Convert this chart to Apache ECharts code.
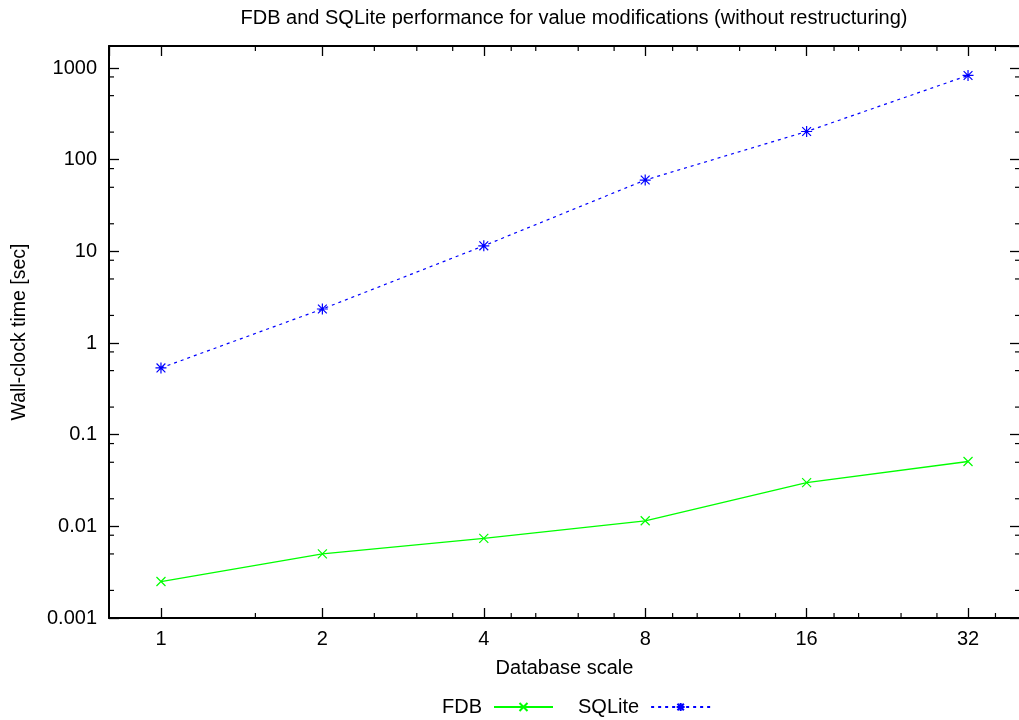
<!DOCTYPE html>
<html>
<head>
<meta charset="utf-8">
<script src="https://cdn.jsdelivr.net/npm/echarts@6/dist/echarts.min.js"></script>
<style>
  html, body { margin: 0; padding: 0; background: #fff; }
  #chart { width: 1019px; height: 720px; }
</style>
</head>
<body>
<div id="chart"></div>
<script>
// ---- data ----
const scaleValues = [1, 2, 4, 8, 16, 32];
const fdbTimes = [0.0025, 0.0050, 0.0074, 0.0115, 0.030, 0.051];
const sqliteTimes = [0.535, 2.35, 11.5, 60, 203, 830];

const seriesNames = ['FDB', 'SQLite'];
const xTickLabels = ['1', '2', '4', '8', '16', '32'];
const yTickLabels = ['0.001', '0.01', '0.1', '1', '10', '100', '1000'];

// minor tick positions seen on the reference axes
const xMinorTicks = [1.5, 2.5, 3, 3.5, 4.5, 5, 6, 7, 9, 10, 12, 14, 18, 20, 24, 28, 36];
const yMinorTicks = [0.002, 0.005, 0.008, 0.02, 0.05, 0.08, 0.2, 0.5, 0.8,
                     2, 5, 8, 20, 50, 80, 200, 500, 800];

const titleText = 'FDB and SQLite performance for value modifications (without restructuring)';
const xName = 'Database scale';
const yName = 'Wall-clock time [sec]';

// ---- chart ----
const FONT = 'Liberation Sans, Arial, Helvetica, sans-serif';
const GREEN = '#00ff00';
const BLUE = '#0000ff';
const X_MIN = 0.8, X_MAX = 40, Y_MIN = 0.001, Y_MAX = 1740;

const chart = echarts.init(document.getElementById('chart'), null, { renderer: 'canvas' });

function xLabel(v) {
  const i = scaleValues.indexOf(Math.round(v));
  return i >= 0 ? xTickLabels[i] : '';
}
function yLabel(v) {
  const e = Math.round(Math.log10(v));
  const i = e + 3;
  return (i >= 0 && i < yTickLabels.length && Math.abs(Math.log10(v) - e) < 1e-6) ? yTickLabels[i] : '';
}

const axisLineStyle = { color: '#000', width: 2 };
const tickStyle = { color: '#000', width: 1.3 };

function baseX(extra) {
  return Object.assign({
    type: 'log', logBase: 2, min: X_MIN, max: X_MAX,
    axisLine: { show: true, lineStyle: axisLineStyle },
    axisTick: { show: true, inside: true, length: 10, lineStyle: tickStyle },
    splitLine: { show: false },
    minorTick: { show: false }
  }, extra);
}
function baseY(extra) {
  return Object.assign({
    type: 'log', logBase: 10, min: Y_MIN, max: Y_MAX,
    axisLine: { show: true, lineStyle: axisLineStyle },
    axisTick: { show: true, inside: true, length: 10, lineStyle: tickStyle },
    splitLine: { show: false },
    minorTick: { show: false }
  }, extra);
}

const minorStyle = { stroke: '#000', lineWidth: 1.2 };

const option = {
  animation: false,
  backgroundColor: '#fff',
  textStyle: { fontFamily: FONT },
  title: {
    text: titleText,
    left: 569, top: 3, textAlign: 'center',
    textStyle: { fontFamily: FONT, fontSize: 20, fontWeight: 'normal', color: '#000' }
  },
  grid: { left: 109, top: 46, width: 911, height: 572, outerBoundsMode: 'none', containLabel: false },
  legend: {
    data: seriesNames,
    left: 437, top: 692,
    align: 'right',
    itemWidth: 59, itemHeight: 10, itemGap: 24,
    textStyle: { fontFamily: FONT, fontSize: 20, color: '#000', padding: [0, 7, 0, 0] }
  },
  xAxis: [
    baseX({
      position: 'bottom',
      name: xName, nameLocation: 'middle', nameGap: 40,
      nameTextStyle: { fontFamily: FONT, fontSize: 20, color: '#000' },
      axisLabel: {
        show: true, margin: 11, fontFamily: FONT, fontSize: 20, color: '#000',
        showMinLabel: false, showMaxLabel: false, formatter: xLabel
      }
    }),
    baseX({ position: 'top', axisLabel: { show: false } })
  ],
  yAxis: [
    baseY({
      position: 'left',
      name: yName, nameLocation: 'middle', nameGap: 79, nameRotate: 90,
      nameTextStyle: { fontFamily: FONT, fontSize: 19.5, color: '#000' },
      axisLabel: {
        show: true, margin: 12, fontFamily: FONT, fontSize: 20, color: '#000',
        showMinLabel: true, showMaxLabel: false, formatter: yLabel
      }
    }),
    baseY({ position: 'right', axisLabel: { show: false } })
  ],
  series: [
    {
      name: seriesNames[0], type: 'line',
      xAxisIndex: 0, yAxisIndex: 0,
      data: scaleValues.map((x, i) => [x, fdbTimes[i]]),
      symbol: 'path://M0,0L10,10M10,0L0,10', symbolSize: 9,
      itemStyle: { color: GREEN, borderColor: GREEN, borderWidth: 1.2 },
      lineStyle: { color: GREEN, width: 1.3, type: 'solid' },
      z: 3
    },
    {
      name: seriesNames[1], type: 'line',
      xAxisIndex: 0, yAxisIndex: 0,
      data: scaleValues.map((x, i) => [x, sqliteTimes[i]]),
      symbol: 'path://M5,0L5,10M0,5L10,5M1,1L9,9M9,1L1,9', symbolSize: 11,
      itemStyle: { color: BLUE, borderColor: BLUE, borderWidth: 1.2 },
      lineStyle: { color: BLUE, width: 1.2, type: [3, 4] },
      z: 3
    },
    {
      type: 'custom', silent: true, xAxisIndex: 0, yAxisIndex: 0, z: 4,
      data: xMinorTicks.map(v => [v, 1]),
      renderItem: function (params, api) {
        const cs = params.coordSys;
        const x = api.coord([api.value(0), 1])[0];
        return {
          type: 'group', children: [
            { type: 'line', shape: { x1: x, y1: cs.y + cs.height, x2: x, y2: cs.y + cs.height - 5 }, style: minorStyle },
            { type: 'line', shape: { x1: x, y1: cs.y, x2: x, y2: cs.y + 5 }, style: minorStyle }
          ]
        };
      }
    },
    {
      type: 'custom', silent: true, xAxisIndex: 0, yAxisIndex: 0, z: 4,
      data: yMinorTicks.map(v => [1, v]),
      renderItem: function (params, api) {
        const cs = params.coordSys;
        const y = api.coord([1, api.value(1)])[1];
        return {
          type: 'group', children: [
            { type: 'line', shape: { x1: cs.x, y1: y, x2: cs.x + 5, y2: y }, style: minorStyle },
            { type: 'line', shape: { x1: cs.x + cs.width, y1: y, x2: cs.x + cs.width - 5, y2: y }, style: minorStyle }
          ]
        };
      }
    }
  ]
};

chart.setOption(option);
</script>
</body>
</html>
